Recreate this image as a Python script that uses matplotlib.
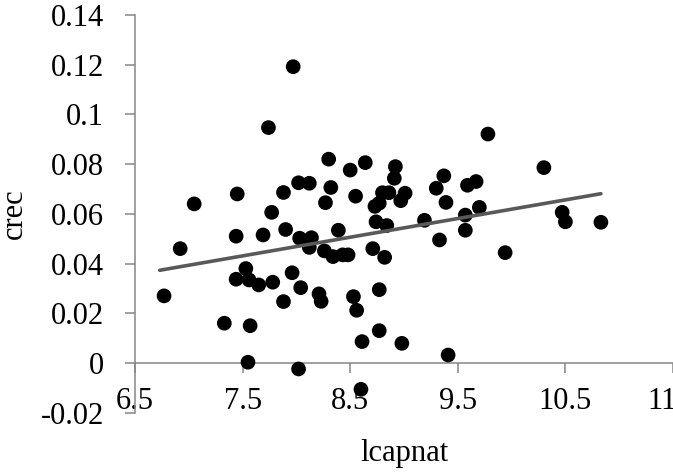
import matplotlib
matplotlib.use("Agg")
import matplotlib.pyplot as plt

# data
lcapnat = [6.77, 6.92, 7.05, 7.33, 7.44, 7.45, 7.44, 7.53, 7.56, 7.57,
           7.55, 7.65, 7.69, 7.77, 7.74, 7.78, 7.88, 7.88, 7.90, 7.96,
           7.97, 8.02, 8.02, 8.04, 8.12, 8.03, 8.14, 8.12, 8.21, 8.23,
           8.26, 8.27, 8.30, 8.32, 8.34, 8.39, 8.43, 8.48, 8.50, 8.53,
           8.56, 8.55, 8.60, 8.61, 8.64, 8.71, 8.73, 8.77, 8.74, 8.77,
           8.77, 8.80, 8.86, 8.82, 8.84, 8.91, 8.92, 8.97, 9.01, 8.98,
           9.19, 9.30, 9.33, 9.37, 9.39, 9.41, 9.57, 9.57, 9.59, 9.67,
           9.70, 9.78, 9.94, 10.30, 10.47, 10.50, 10.83]
crec = [0.0270, 0.0460, 0.0640, 0.0160, 0.0510, 0.0680, 0.0337, 0.0380, 0.0334, 0.0150,
        0.0003, 0.0314, 0.0515, 0.0606, 0.0947, 0.0325, 0.0247, 0.0686, 0.0537, 0.0363,
        0.1192, -0.0024, 0.0725, 0.0303, 0.0723, 0.0502, 0.0504, 0.0465, 0.0278, 0.0248,
        0.0451, 0.0645, 0.0820, 0.0706, 0.0428, 0.0534, 0.0435, 0.0435, 0.0776, 0.0267,
        0.0212, 0.0671, -0.0106, 0.0086, 0.0806, 0.0460, 0.0630, 0.0643, 0.0568, 0.0295,
        0.0130, 0.0685, 0.0685, 0.0425, 0.0553, 0.0743, 0.0790, 0.0653, 0.0683, 0.0079,
        0.0574, 0.0703, 0.0495, 0.0753, 0.0646, 0.0032, 0.0595, 0.0534, 0.0715, 0.0730,
        0.0626, 0.0921, 0.0444, 0.0786, 0.0606, 0.0568, 0.0566]

# linear trend line end points
trend_x = [6.73, 10.83]
trend_y = [0.0373, 0.0681]

x_ticks = [6.5, 7.5, 8.5, 9.5, 10.5, 11.5]
x_tick_labels = ["6.5", "7.5", "8.5", "9.5", "10.5", "11.5"]
y_ticks = [-0.02, 0, 0.02, 0.04, 0.06, 0.08, 0.1, 0.12, 0.14]
y_tick_labels = ["-0.02", "0", "0.02", "0.04", "0.06", "0.08", "0.1", "0.12", "0.14"]

plt.rcParams['font.family'] = ['Liberation Serif', 'DejaVu Serif']
plt.rcParams['font.size'] = 22

axis_grey = '#868686'

fig = plt.figure(figsize=(6.73, 4.73), dpi=100)
ax = fig.add_axes([0.2006, 0.1275, 0.7994, 0.8408])

ax.scatter(lcapnat, crec, s=112, color='black', edgecolors='none', zorder=3)
ax.plot(trend_x, trend_y, color='#595959', linewidth=2.6, solid_capstyle='round', zorder=4)

ax.set_xlim(6.5, 11.5)
ax.set_ylim(-0.02, 0.14)

ax.spines['top'].set_visible(False)
ax.spines['right'].set_visible(False)
ax.spines['bottom'].set_position(('data', 0))
for s in ['left', 'bottom']:
    ax.spines[s].set_color(axis_grey)
    ax.spines[s].set_linewidth(1.1)

ax.set_xticks(x_ticks)
ax.set_xticklabels(x_tick_labels)
ax.set_yticks(y_ticks)
ax.set_yticklabels(y_tick_labels)
ax.tick_params(axis='both', direction='out', length=7.5, width=1.1, color=axis_grey)
ax.tick_params(axis='x', pad=10)
ax.tick_params(axis='y', pad=15)

fig.text(0.5 * (0.2006 + 1.0), 1 - 453 / 473, 'lcapnat', ha='center', va='center')
fig.text(14 / 673, 1 - 214 / 473, 'crec', rotation=90, ha='center', va='center')

fig.savefig('out.png', dpi=100)
